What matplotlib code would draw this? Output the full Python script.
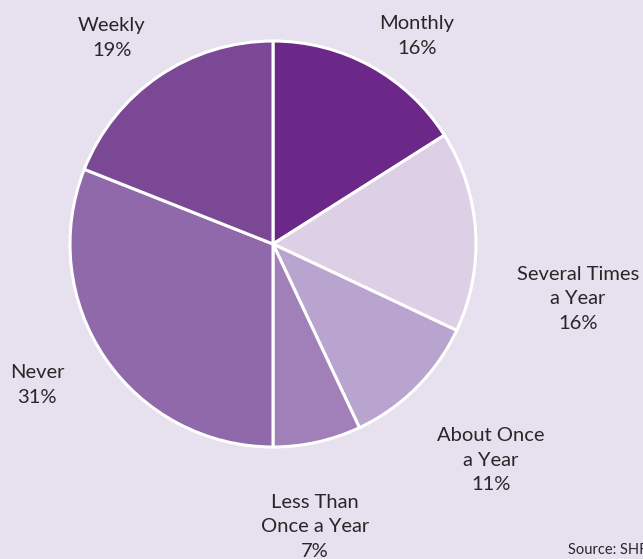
import matplotlib.pyplot as plt

# data
cats = ["Monthly", "Several Times\na Year", "About Once\na Year",
        "Less Than\nOnce a Year", "Never", "Weekly"]
vals = [16, 16, 11, 7, 31, 19]
cols = ["#6b2889", "#ddd0e6", "#b9a3cf", "#a17fb9", "#8f69aa", "#7b4896"]

# label centres in pixels (x, y from top)
lab_pos = [(417, 36), (578, 299), (491, 460), (315, 527), (37, 385), (112, 38)]

W, H = 643, 559
bg = "#e6e0ef"
plt.rcParams['font.family'] = ['Lato', 'DejaVu Sans']

fig = plt.figure(figsize=(W / 100, H / 100), dpi=100, facecolor=bg)
ax = fig.add_axes([0, 0, 1, 1])
ax.set_facecolor(bg)

ax.pie(vals, colors=cols, startangle=90, counterclock=False,
       center=(273, H - 244), radius=203, frame=True,
       wedgeprops=dict(edgecolor='white', linewidth=2.2))
ax.set_xlim(0, W)
ax.set_ylim(0, H)
ax.set_aspect('equal')
ax.axis('off')

for c, v, (px, py) in zip(cats, vals, lab_pos):
    ax.text(px, H - py, c + "\n" + str(v) + "%", ha='center', va='center',
            fontsize=14.5, color='#2a2628', linespacing=1.55)

ax.text(568, H - 550, "Source: SHRM", ha='left', va='center',
        fontsize=10.5, color='#2a2628')

fig.savefig("out.png", dpi=100, facecolor=bg)
